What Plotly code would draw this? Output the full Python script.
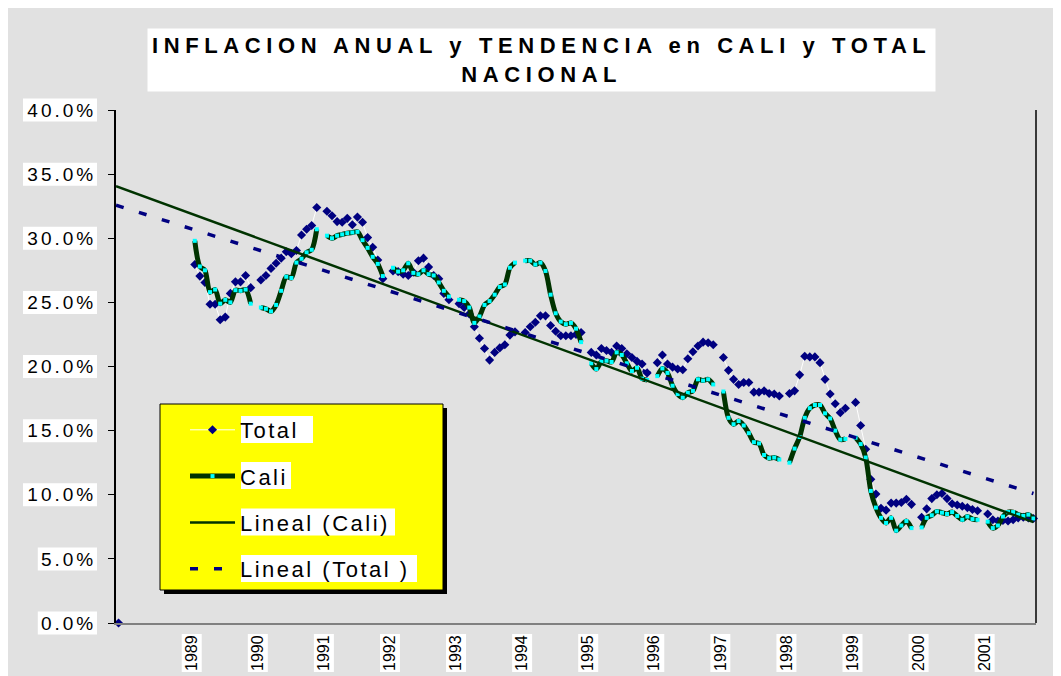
import plotly.graph_objects as go

# ---------------- data ----------------
year_labels = ["1989", "1990", "1991", "1992", "1993", "1994", "1995",
               "1996", "1997", "1998", "1999", "2000", "2001"]

# Cali, monthly annual inflation (%)
cali_1989 = [29.8, 27.8, 27.5, 25.8, 26.0, 24.9, 25.2, 25.0, 25.95, 25.9, 26.0, 24.9]
cali_1990 = [24.6, 24.5, 24.3, 24.8, 25.9, 27.0, 26.9, 28.1, 28.4, 28.9, 29.1, 30.7]
cali_1991 = [30.2, 30.0, 30.2, 30.3, 30.4, 30.45, 30.5, 29.85, 29.25, 28.55, 28.0, 27.05]
cali_1992 = [27.7, 27.4, 27.5, 28.05, 27.3, 27.2, 27.5, 27.2, 27.1, 26.55, 25.9, 25.45]
cali_1993 = [25.2, 25.1, 24.6, 23.4, 23.9, 24.8, 25.1, 25.6, 26.2, 26.4, 27.7, 28.1]
cali_1994 = [28.25, 28.25, 27.95, 28.1, 27.45, 25.6, 24.15, 23.5, 23.3, 23.4, 22.95, 21.9]
cali_1995 = [20.25, 19.8, 20.4, 20.45, 20.35, 21.1, 20.9, 20.25, 19.65, 19.9, 19.05, 18.95]
cali_1996 = [19.25, 19.85, 19.5, 18.5, 17.85, 17.57, 17.95, 18.1, 19.0, 18.9, 19.0, 18.6]
cali_1997 = [18.05, 16.0, 15.5, 15.75, 15.4, 14.8, 14.1, 14.0, 13.1, 12.85, 12.9, 12.75]
cali_1998 = [12.5, 13.6, 14.5, 16.0, 16.75, 17.0, 17.0, 16.35, 15.95, 15.0, 14.3, 14.35]
cali_1999 = [14.45, 13.95, 12.9, 10.3, 9.0, 8.2, 7.8, 8.2, 7.2, 7.6, 7.95, 7.4]
cali_2000 = [7.45, 8.2, 8.4, 8.7, 8.6, 8.5, 8.65, 8.35, 8.05, 8.3, 8.1, 8.05]
cali_2001 = [7.9, 7.4, 7.6, 8.3, 8.65, 8.65, 8.45, 8.35, 8.45, 8.15]

# Total nacional, monthly annual inflation (%)
total_first = [0.0]
total_1989 = [27.95, 27.05, 26.55, 24.85, 24.85, 23.65, 23.85, 25.7, 26.6, 26.6, 27.1, 26.15]
total_1990 = [26.75, 27.1, 27.65, 28.05, 28.45, 28.95, 28.8, 29.05, 30.25, 30.7, 31.0, 32.4]
total_1991 = [32.1, 31.75, 31.3, 31.25, 31.55, 31.05, 31.65, 31.25, 30.05, 29.3, 28.3, 26.85]
total_1992 = [27.45, 27.4, 27.2, 27.1, 27.35, 28.25, 28.45, 27.75, 27.1, 26.85, 25.7, 25.2]
total_1993 = [24.9, 24.6, 24.1, 23.1, 22.2, 21.4, 20.5, 21.1, 21.45, 21.7, 22.45, 22.7]
total_1994 = [22.65, 23.1, 23.45, 23.95, 23.95, 23.2, 22.75, 22.4, 22.4, 22.4, 22.5, 22.65]
total_1995 = [21.1, 20.9, 21.4, 21.25, 21.1, 21.6, 21.4, 21.0, 20.7, 20.4, 20.2, 19.5]
total_1996 = [20.3, 20.9, 20.2, 19.95, 19.8, 19.75, 20.6, 21.15, 21.6, 21.9, 21.85, 21.7]
total_1997 = [20.7, 19.7, 19.0, 18.6, 18.75, 18.75, 18.0, 18.0, 18.1, 17.9, 17.85, 17.7]
total_1998 = [17.9, 18.1, 19.35, 20.8, 20.75, 20.75, 20.3, 19.0, 17.85, 17.1, 16.4, 16.75]
total_1999 = [17.2, 15.4, 13.55, 11.2, 10.05, 8.95, 8.8, 9.35, 9.35, 9.4, 9.65, 9.25]
total_2000 = [8.25, 8.9, 9.7, 10.0, 10.1, 9.7, 9.3, 9.2, 9.1, 9.0, 8.85, 8.75]
total_2001 = [8.5, 8.05, 7.95, 8.0, 7.95, 8.05, 8.2, 8.25, 8.2, 8.15]

# linear trend lines: value at the start of the axis and at the last category
cali_trend = [34.06, 7.86]
total_trend = [32.58, 10.1]

y_ticks = [0, 5, 10, 15, 20, 25, 30, 35, 40]

cali_years = [cali_1989, cali_1990, cali_1991, cali_1992, cali_1993, cali_1994, cali_1995,
              cali_1996, cali_1997, cali_1998, cali_1999, cali_2000, cali_2001]
total_years = [total_1989, total_1990, total_1991, total_1992, total_1993, total_1994, total_1995,
               total_1996, total_1997, total_1998, total_1999, total_2000, total_2001]

# ---------------- category layout ----------------
FIRST_CAT = 15   # first month category (Jan 1989)
BLOCK = 13       # 12 months + 1 blank category per year
N_CATS = 181


def series_xy(blocks):
    xs, ys = [], []
    for k, vals in enumerate(blocks):
        base = FIRST_CAT + BLOCK * k
        for m, v in enumerate(vals):
            xs.append(base + m + 0.5)
            ys.append(v)
        xs.append(base + 12 + 0.5)
        ys.append(None)
    return xs, ys


cx, cy = series_xy(cali_years)
tx, ty = series_xy(total_years)
tx = [0.5, 1.5] + tx
ty = total_first + [None] + ty

trend_x = [0, N_CATS - 0.5]
tick_x = [FIRST_CAT - 1 + BLOCK * k + 0.9 for k in range(len(year_labels))]

# ---------------- geometry helpers (reference pixels -> paper) ----------------
OFF = 8                      # page body margin of the browser
W, H = 1061 - OFF, 676 - OFF  # figure size
L, R, T, B = 116, 1036, 110, 623   # plot area in reference pixels


def px(p):
    return (p - L) / (R - L)


def py(q):
    return (B - q) / (B - T)


def ls(s, sp):
    return f'<span style="letter-spacing:{sp}px">{s}</span>'


GRAY = "#E1E1E1"
NAVY = "#000080"
GREEN = "#003300"
FONT = "Liberation Sans, Arial, sans-serif"

fig = go.Figure()

fig.add_trace(go.Scatter(
    x=tx, y=ty, mode="lines+markers", name=ls("Total", 2.5),
    line=dict(color="white", width=1),
    marker=dict(symbol="diamond", size=7, color=NAVY),
    connectgaps=False, cliponaxis=False, legendgroup="a"))

fig.add_trace(go.Scatter(
    x=cx, y=cy, mode="lines+markers", name=ls("Cali", 2.5),
    line=dict(color=GREEN, width=5, shape="spline", smoothing=0.8),
    marker=dict(symbol="square", size=4, color="#00FFFF"),
    connectgaps=False, legendgroup="b"))

fig.add_trace(go.Scatter(
    x=trend_x, y=cali_trend, mode="lines", name=ls("Lineal (Cali)", 2.5),
    line=dict(color=GREEN, width=2.5), legendgroup="c"))

fig.add_trace(go.Scatter(
    x=trend_x, y=total_trend, mode="lines", name=ls("Lineal (Total )", 2.5),
    line=dict(color=NAVY, width=3.5, dash="8px,16px"), legendgroup="d"))

shapes = []
# white boxes behind y tick labels
for v in y_ticks:
    lab = f"{v:.1f}%"
    wbox = 14.8 * len(lab)
    yc = B - v * (B - T) / 40
    shapes.append(dict(type="rect", xref="paper", yref="paper", layer="below",
                       x0=px(97 - wbox), x1=px(97), y0=py(yc + 11.5), y1=py(yc - 11.5),
                       fillcolor="white", line_width=0))
# white boxes behind x tick labels
for k in range(len(year_labels)):
    xc = L + tick_x[k] * (R - L) / N_CATS
    shapes.append(dict(type="rect", xref="paper", yref="paper", layer="below",
                       x0=px(xc - 10), x1=px(xc + 10), y0=py(672), y1=py(634),
                       fillcolor="white", line_width=0))
# right border of plot area
shapes.append(dict(type="line", xref="paper", yref="paper", x0=1, x1=1, y0=0, y1=1,
                   line=dict(color="black", width=1.5)))
# legend box: shadow, yellow panel, white text boxes
shapes.append(dict(type="rect", xref="paper", yref="paper", layer="above",
                   x0=px(164), x1=px(447), y0=py(594), y1=py(408),
                   fillcolor="black", line_width=0))
shapes.append(dict(type="rect", xref="paper", yref="paper", layer="above",
                   x0=px(160), x1=px(443), y0=py(590), y1=py(404),
                   fillcolor="#FFFF00", line=dict(color="black", width=1)))
for yc, wbox in [(429.5, 72), (475.5, 50), (522, 154), (568.5, 176)]:
    shapes.append(dict(type="rect", xref="paper", yref="paper", layer="above",
                       x0=px(241), x1=px(241 + wbox), y0=py(yc + 13.5), y1=py(yc - 13.5),
                       fillcolor="white", line_width=0))

title_text = (ls("INFLACION ANUAL y TENDENCIA en CALI y TOTAL", 5.6) + "<br>" + ls("NACIONAL", 5.6))

fig.update_layout(
    width=W, height=H,
    margin=dict(l=L - OFF, r=1061 - R, t=T - OFF, b=676 - B, pad=0),
    paper_bgcolor=GRAY, plot_bgcolor=GRAY,
    font=dict(family=FONT, color="black"),
    showlegend=True,
    legend=dict(x=px(185), y=py(409), xanchor="left", yanchor="top",
                bgcolor="rgba(0,0,0,0)", borderwidth=0,
                font=dict(size=22, family=FONT, color="black"),
                itemwidth=45, traceorder="grouped", tracegroupgap=14.7),
    shapes=shapes,
    annotations=[dict(text=title_text, xref="paper", yref="paper",
                      x=px(541), y=py(60), xanchor="center", yanchor="middle",
                      showarrow=False, bgcolor="white", borderpad=4,
                      font=dict(size=22, family=FONT, color="black", weight="bold"))],
    xaxis=dict(range=[0, N_CATS], showgrid=False, zeroline=False,
               showline=True, linecolor="#808080", linewidth=2,
               tickmode="array", tickvals=tick_x, ticktext=year_labels,
               ticks="", tickangle=-90, ticklabelstandoff=4,
               tickfont=dict(size=16, family=FONT, color="black"), automargin=False),
    yaxis=dict(range=[0, 40], showgrid=False, zeroline=False,
               showline=True, linecolor="black", linewidth=2,
               tickmode="array", tickvals=y_ticks,
               ticktext=[ls(f"{v:.1f}%", 3) for v in y_ticks],
               ticks="outside", ticklen=6, tickcolor="black", tickwidth=1,
               ticklabelstandoff=8,
               tickfont=dict(size=19, family=FONT, color="black"), automargin=False),
)

fig.write_html("out.html")
